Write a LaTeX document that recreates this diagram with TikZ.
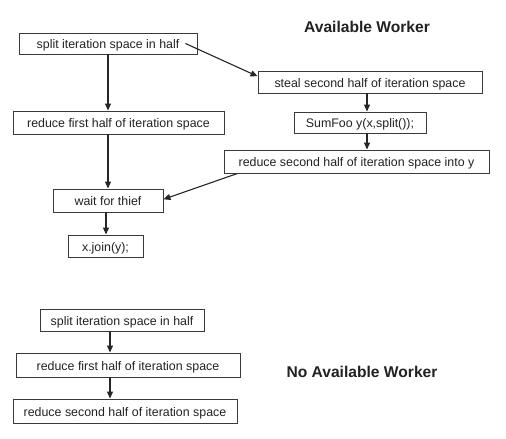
\documentclass[tikz,border=0pt]{standalone}
\usepackage{fontspec}
\setmainfont{Liberation Sans}
\usetikzlibrary{arrows.meta,calc}
\definecolor{boxline}{HTML}{3A3A3A}
\definecolor{txt}{HTML}{222222}
\tikzset{
  stepbox/.style={draw=boxline, line width=0.9pt, fill=white, inner sep=0pt,
    text height=10.5pt, text depth=0pt,
    font=\fontsize{12.4}{14}\selectfont, text=txt},
  title/.style={font=\fontsize{15.6}{18}\selectfont\bfseries, text=txt, inner sep=0pt},
  conn/.style={draw=black!85, line width=1.1pt, -{Triangle[length=7pt,width=6pt]}}
}
\begin{document}
\begin{tikzpicture}[x=1pt,y=-1pt]
\useasboundingbox[fill=white] (0,0) rectangle (506,439);

\node[title] (tavail) at (367,27) {Available Worker};
\node[title] (tnoavail) at (362,372) {No Available Worker};

\node[stepbox, minimum width=178pt, minimum height=21pt] (split) at (108,43.5) {split iteration space in half};
\node[stepbox, minimum width=211pt, minimum height=23pt] (red1) at (118.5,122.5) {reduce first half of iteration space};
\node[stepbox, minimum width=110pt, minimum height=23pt] (wait) at (108,200.5) {wait for thief};
\node[stepbox, minimum width=75pt, minimum height=22pt] (join) at (105.5,246) {x.join(y);};

\node[stepbox, minimum width=224pt, minimum height=22pt] (steal) at (370,82) {steal second half of iteration space};
\node[stepbox, minimum width=132pt, minimum height=21pt] (sumfoo) at (360,122.5) {SumFoo y(x,split());};
\node[stepbox, minimum width=265pt, minimum height=23pt] (redy) at (356.5,161.5) {reduce second half of iteration space into y};

\node[stepbox, minimum width=164pt, minimum height=22pt] (splitb) at (122,320) {split iteration space in half};
\node[stepbox, minimum width=224pt, minimum height=24pt] (redfirstb) at (128,365) {reduce first half of iteration space};
\node[stepbox, minimum width=224pt, minimum height=24pt] (redsecondb) at (125,411) {reduce second half of iteration space};

% connectors
\draw[conn] (split.south) -- (split.south |- red1.north);
\draw[conn] (red1.south -| wait.north) -- (wait.north);
\draw[conn] ([xshift=-2pt]wait.south) -- ([xshift=-2pt]wait.south |- join.north);
\draw[conn] ($(split.east)+(-12,0)$) -- ($(steal.north west)!0.25!(steal.south west)$);
\draw[conn] ([xshift=-3pt]steal.south) -- ([xshift=-3pt]steal.south |- sumfoo.north);
\draw[conn] ([xshift=-3pt]steal.south |- sumfoo.south) -- ([xshift=-3pt]steal.south |- redy.north);
\draw[conn] ($(redy.south west)+(14,0)$) -- ($(wait.north east)!0.45!(wait.south east)$);

\draw[conn] ([xshift=-12pt]splitb.south) -- ([xshift=-12pt]splitb.south |- redfirstb.north);
\draw[conn] ([xshift=-12pt]splitb.south |- redfirstb.south) -- ([xshift=-12pt]splitb.south |- redsecondb.north);
\end{tikzpicture}
\end{document}
